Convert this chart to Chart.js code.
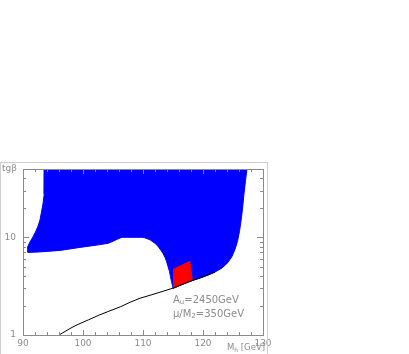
<!DOCTYPE html>
<html>
<head>
<meta charset="utf-8">
<script src="https://cdn.jsdelivr.net/npm/chart.js@4/dist/chart.umd.min.js"></script>
<style>
  html, body { margin: 0; padding: 0; background: #fff; }
  #wrap { width: 409px; height: 354px; }
</style>
</head>
<body>
<div id="wrap"><canvas id="c" width="409" height="354"></canvas></div>
<script>
// axis ticks
const xTicks = [90, 100, 110, 120, 130];
const yTicks = [1, 10];

// blue allowed region (Mh, tg beta), traced round the outline
const blueX = [93.58, 93.58, 93.5, 93.33, 93.08, 92.83, 92.5, 92.08, 91.58, 91.08, 90.83, 90.83, 92.83,
    96.17, 99.5, 102.0, 104.17, 105.0, 105.67, 106.5, 109.83,
    110.33, 111.17, 112.0, 112.5, 113.0, 113.33, 113.67, 113.92, 114.17, 114.42, 114.58, 114.75, 114.92, 115.0,
    118.17, 119.5, 120.83, 122.0, 123.17, 124.17, 124.83, 125.33, 125.75, 126.08, 126.33, 126.58, 126.83, 127.08, 127.33];
const blueY = [50, 35.2, 27.7, 21.9, 18.1, 15.0, 13.0, 11.3, 9.88, 8.78, 8.08, 7.0, 7.09,
    7.34, 7.88, 8.27, 8.67, 9.1, 9.53, 10.0, 10.0,
    9.88, 9.42, 8.67, 8.08, 7.34, 6.84, 6.22, 5.66, 5.02, 4.46, 3.96, 3.52, 3.2, 3.02,
    3.6, 3.82, 4.11, 4.41, 4.85, 5.53, 6.37, 7.52, 9.1, 11.5, 14.6, 19.4, 27.7, 37.8, 50];

// red region
const redX = [115.0, 117.8, 118.2, 115.0];
const redY = [4.68, 5.66, 3.69, 2.98];

// black curve
const curveX = [96.0, 97.0, 98.0, 99.0, 100.92, 102.8, 104.5, 106.2, 107.83, 109.5, 111.17, 112.83, 115.0, 118.17, 120.83, 122.0];
const curveY = [1.0, 1.087, 1.18, 1.27, 1.43, 1.61, 1.77, 1.94, 2.16, 2.38, 2.55, 2.74, 3.02, 3.6, 4.11, 4.41];

const pts = (xs, ys) => xs.map((x, i) => ({ x: x, y: ys[i] }));

// draws text with subscript parts: [[text, isSub], ...]
function drawSub(ctx, parts, x, y, size) {
    let cx = x;
    parts.forEach(p => {
        const s = p[1] ? size * 0.7 : size;
        ctx.font = s + 'px "DejaVu Sans"';
        ctx.fillText(p[0], cx, p[1] ? y + size * 0.25 : y);
        cx += ctx.measureText(p[0]).width;
    });
}

const framePlugin = {
    id: 'frame',
    afterDraw(chart) {
        const ctx = chart.ctx;
        const a = chart.chartArea;
        const xs = chart.scales.x, ys = chart.scales.y;
        ctx.save();
        // outer light frame
        ctx.strokeStyle = '#cfcfcf';
        ctx.lineWidth = 1;
        ctx.strokeRect(0.5, 162.5, 267, 193);
        // plot box
        ctx.strokeStyle = '#8a8a8a';
        ctx.strokeRect(Math.round(a.left) + 0.5, Math.round(a.top) + 0.5, Math.round(a.right - a.left), Math.round(a.bottom - a.top));
        // inward ticks
        ctx.beginPath();
        for (let v = 90; v <= 130; v += 2) {
            const px = Math.round(xs.getPixelForValue(v)) + 0.5;
            const len = v % 10 === 0 ? 5 : 3;
            ctx.moveTo(px, a.bottom); ctx.lineTo(px, a.bottom - len);
            ctx.moveTo(px, a.top); ctx.lineTo(px, a.top + len);
        }
        const yMinor = [1, 2, 3, 4, 5, 6, 7, 8, 9, 10, 20, 30, 40, 50];
        yMinor.forEach(v => {
            const py = Math.round(ys.getPixelForValue(v)) + 0.5;
            const len = (v === 1 || v === 10) ? 6 : 3;
            ctx.moveTo(a.left, py); ctx.lineTo(a.left + len, py);
            ctx.moveTo(a.right, py); ctx.lineTo(a.right - len, py);
        });
        ctx.stroke();
        // labels
        ctx.fillStyle = '#8c8c8c';
        ctx.textBaseline = 'middle';
        ctx.textAlign = 'left';
        ctx.font = '9px "DejaVu Sans"';
        ctx.fillText('tg\u03b2', 2, 169);
        drawSub(ctx, [['M', false], ['h', true], [' [GeV]', false]], 227, 348, 8.5);
        drawSub(ctx, [['A', false], ['u', true], ['=2450GeV', false]], 173, 300, 10);
        drawSub(ctx, [['\u03bc/M', false], ['2', true], ['=350GeV', false]], 173, 314, 10);
        ctx.restore();
    }
};

new Chart(document.getElementById('c'), {
    type: 'scatter',
    data: {
        datasets: [
            {
                data: pts(curveX, curveY),
                showLine: true,
                borderColor: '#000',
                borderWidth: 1,
                pointRadius: 0,
                fill: false
            },
            {
                data: pts(redX, redY),
                showLine: true,
                borderColor: '#ff0000',
                backgroundColor: '#ff0000',
                borderWidth: 1,
                pointRadius: 0,
                fill: 'shape'
            },
            {
                data: pts(blueX, blueY),
                showLine: true,
                borderColor: '#0000ff',
                backgroundColor: '#0000ff',
                borderWidth: 1,
                pointRadius: 0,
                fill: 'shape'
            }
        ]
    },
    options: {
        responsive: false,
        animation: false,
        layout: { padding: { left: 0, right: 146, top: 169, bottom: 0 } },
        plugins: { legend: { display: false }, tooltip: { enabled: false } },
        scales: {
            x: {
                type: 'linear',
                min: 90,
                max: 130,
                afterBuildTicks: s => { s.ticks = xTicks.map(v => ({ value: v })); },
                afterFit: s => { s.height = 19; },
                grid: { display: false, drawTicks: false },
                border: { display: false },
                ticks: { color: '#8c8c8c', font: { family: 'DejaVu Sans', size: 9 }, padding: 3, maxRotation: 0 }
            },
            y: {
                type: 'logarithmic',
                min: 1,
                max: 50,
                afterBuildTicks: s => { s.ticks = yTicks.map(v => ({ value: v })); },
                afterFit: s => { s.width = 23; },
                grid: { display: false, drawTicks: false },
                border: { display: false },
                ticks: { color: '#8c8c8c', font: { family: 'DejaVu Sans', size: 9 }, padding: 7, callback: v => String(v) }
            }
        }
    },
    plugins: [framePlugin]
});
</script>
</body>
</html>
